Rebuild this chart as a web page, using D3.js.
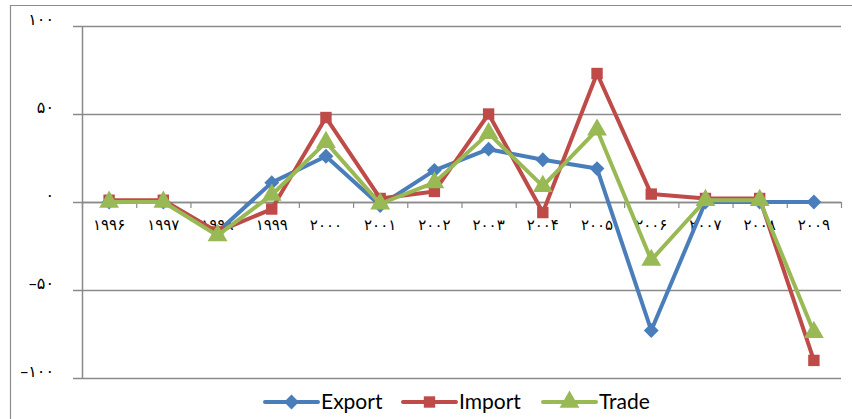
<!DOCTYPE html>
<html>
<head>
<meta charset="utf-8">
<script src="https://cdn.jsdelivr.net/npm/d3@7"></script>
<style>
  body { margin: 0; background: #fff; }
  svg { display: block; }
</style>
</head>
<body>
<script>
// categories and tick labels
var years = ["۱۹۹۶", "۱۹۹۷", "۱۹۹۸", "۱۹۹۹", "۲۰۰۰", "۲۰۰۱", "۲۰۰۲",
             "۲۰۰۳", "۲۰۰۴", "۲۰۰۵", "۲۰۰۶", "۲۰۰۷", "۲۰۰۸", "۲۰۰۹"];
var yTicks = [-100, -50, 0, 50, 100];
var yTickLabels = ["–۱۰۰", "–۵۰", "۰", "۵۰", "۱۰۰"];

// series values
var exportVals = [0, 0, -17, 11, 26, -2, 18, 30, 24, 19, -73, 0, 0, 0];
var importVals = [1, 1, -17, -4, 48, 2, 6, 50, -6, 73, 4.5, 2, 2, -90];
var tradeVals  = [0, 0, -19, 4, 34, -1, 11, 39, 9, 41, -33, 1, 1, -74];

var seriesNames = ["Export", "Import", "Trade"];
var seriesColors = ["#4a7ebb", "#be4b48", "#98b954"];

var width = 852, height = 419;
var plotLeft = 82, plotRight = 841, plotTop = 26, plotBottom = 378;

// marker shapes: diamond is a rotated square like the spreadsheet one
function marker(sel, s) {
    if (s === 0) {
        sel.attr("d", d3.symbol().type(d3.symbolSquare).size(110)())
           .attr("transform", function() {
               return d3.select(this).attr("transform") + " rotate(45)";
           });
    } else if (s === 1) {
        sel.attr("d", d3.symbol().type(d3.symbolSquare).size(130)());
    } else {
        sel.attr("d", d3.symbol().type(d3.symbolTriangle).size(170)());
    }
}

var svg = d3.select("body").append("svg")
    .attr("width", width)
    .attr("height", height);

// outer chart frame (left and top edges are visible)
svg.append("path")
    .attr("d", "M10.5," + height + "V5.5H" + width)
    .attr("fill", "none")
    .attr("stroke", "#8c8c8c")
    .attr("stroke-width", 1.2);

var x = d3.scaleBand()
    .domain(years)
    .range([plotLeft, plotRight]);

var y = d3.scaleLinear()
    .domain([-100, 100])
    .range([plotBottom, plotTop]);

// horizontal gridlines
svg.append("g")
    .selectAll("line")
    .data(yTicks)
    .enter().append("line")
    .attr("x1", plotLeft - 9)
    .attr("x2", plotRight)
    .attr("y1", function(d) { return y(d) + 0.5; })
    .attr("y2", function(d) { return y(d) + 0.5; })
    .attr("stroke", "#8a8a8a")
    .attr("stroke-width", 1.5);

// y axis line
svg.append("line")
    .attr("x1", plotLeft + 0.5).attr("x2", plotLeft + 0.5)
    .attr("y1", plotTop).attr("y2", plotBottom)
    .attr("stroke", "#8a8a8a")
    .attr("stroke-width", 1.5);

// y labels
svg.append("g")
    .selectAll("text")
    .data(yTicks)
    .enter().append("text")
    .attr("x", 54)
    .attr("y", function(d) { return y(d) - 1; })
    .attr("text-anchor", "end")
    .attr("font-family", "DejaVu Sans")
    .attr("font-size", 16)
    .attr("fill", "#000")
    .text(function(d, i) { return yTickLabels[i]; });

// x axis at zero with ticks between categories
var xAxisG = svg.append("g");
xAxisG.append("line")
    .attr("x1", plotLeft).attr("x2", plotRight)
    .attr("y1", y(0) + 0.5).attr("y2", y(0) + 0.5)
    .attr("stroke", "#8a8a8a")
    .attr("stroke-width", 1.5);

var boundaries = years.map(function(d) { return x(d); }).concat([plotRight]);
xAxisG.selectAll("line.tick")
    .data(boundaries)
    .enter().append("line")
    .attr("class", "tick")
    .attr("x1", function(d) { return d + 0.5; })
    .attr("x2", function(d) { return d + 0.5; })
    .attr("y1", y(0))
    .attr("y2", y(0) + 6)
    .attr("stroke", "#8a8a8a")
    .attr("stroke-width", 1.2);

xAxisG.selectAll("text")
    .data(years)
    .enter().append("text")
    .attr("x", function(d) { return x(d) + x.bandwidth() / 2; })
    .attr("y", y(0) + 28)
    .attr("text-anchor", "middle")
    .attr("font-family", "DejaVu Sans")
    .attr("font-size", 15)
    .attr("fill", "#000")
    .text(function(d) { return d; });

// series
var allSeries = [exportVals, importVals, tradeVals];

var line = d3.line()
    .x(function(d, i) { return x(years[i]) + x.bandwidth() / 2; })
    .y(function(d) { return y(d); });

allSeries.forEach(function(vals, s) {
    var g = svg.append("g");
    g.append("path")
        .datum(vals)
        .attr("d", line)
        .attr("fill", "none")
        .attr("stroke", seriesColors[s])
        .attr("stroke-width", 4)
        .attr("stroke-linejoin", "round");

    g.selectAll("path.m")
        .data(vals)
        .enter().append("path")
        .attr("class", "m")
        .attr("transform", function(d, i) {
            return "translate(" + (x(years[i]) + x.bandwidth() / 2) + "," + y(d) + ")";
        })
        .attr("fill", seriesColors[s])
        .call(marker, s);
});

// legend
var legendX = [265, 403, 543];
var legendY = 402;
var legend = svg.append("g");
seriesNames.forEach(function(name, s) {
    var lx = legendX[s];
    legend.append("line")
        .attr("x1", lx).attr("x2", lx + 53)
        .attr("y1", legendY).attr("y2", legendY)
        .attr("stroke", seriesColors[s])
        .attr("stroke-width", 4)
        .attr("stroke-linecap", "round");
    legend.append("path")
        .attr("transform", "translate(" + (lx + 26.5) + "," + legendY + ")")
        .attr("fill", seriesColors[s])
        .call(marker, s);
    legend.append("text")
        .attr("x", lx + 56)
        .attr("y", legendY + 7)
        .attr("font-family", "Lato, 'Open Sans', sans-serif")
        .attr("font-size", 21)
        .attr("fill", "#000")
        .text(name);
});
</script>
</body>
</html>
